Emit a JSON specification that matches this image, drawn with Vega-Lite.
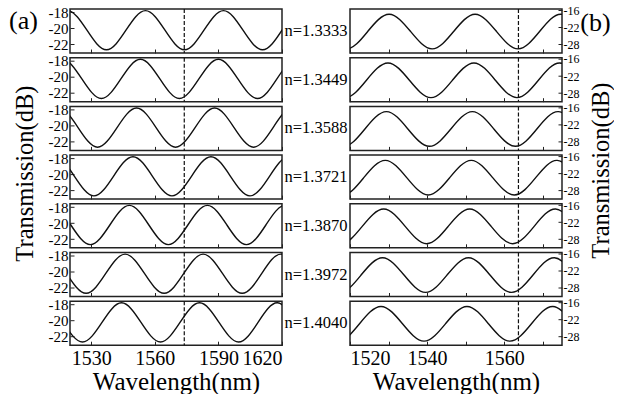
{
"$schema": "https://vega.github.io/schema/vega-lite/v6.json",
"padding": {"left": 7, "top": 3, "right": 0, "bottom": 0},
"background": "white",
"datasets": {
"left": [
{"n":"1.3333","w":1509.6,"t":-20.25},{"n":"1.3333","w":1518.8,"t":-17.8},{"n":"1.3333","w":1528.0,"t":-20.25},{"n":"1.3333","w":1537.2,"t":-22.7},{"n":"1.3333","w":1546.4,"t":-20.25},{"n":"1.3333","w":1555.6,"t":-17.8},{"n":"1.3333","w":1564.8,"t":-20.25},{"n":"1.3333","w":1574.0,"t":-22.7},{"n":"1.3333","w":1583.2,"t":-20.25},{"n":"1.3333","w":1592.4,"t":-17.8},{"n":"1.3333","w":1601.6,"t":-20.25},{"n":"1.3333","w":1610.8,"t":-22.7},{"n":"1.3333","w":1620.0,"t":-20.25},{"n":"1.3333","w":1629.2,"t":-17.8},{"n":"1.3333","w":1638.4,"t":-20.25},{"n":"1.3333","w":1647.6,"t":-22.7},
{"n":"1.3449","w":1507.2,"t":-20.25},{"n":"1.3449","w":1516.4,"t":-17.8},{"n":"1.3449","w":1525.6,"t":-20.25},{"n":"1.3449","w":1534.8,"t":-22.7},{"n":"1.3449","w":1544.0,"t":-20.25},{"n":"1.3449","w":1553.2,"t":-17.8},{"n":"1.3449","w":1562.4,"t":-20.25},{"n":"1.3449","w":1571.6,"t":-22.7},{"n":"1.3449","w":1580.8,"t":-20.25},{"n":"1.3449","w":1590.0,"t":-17.8},{"n":"1.3449","w":1599.2,"t":-20.25},{"n":"1.3449","w":1608.4,"t":-22.7},{"n":"1.3449","w":1617.6,"t":-20.25},{"n":"1.3449","w":1626.8,"t":-17.8},{"n":"1.3449","w":1636.0,"t":-20.25},{"n":"1.3449","w":1645.2,"t":-22.7},
{"n":"1.3588","w":1505.4,"t":-20.25},{"n":"1.3588","w":1514.6,"t":-17.8},{"n":"1.3588","w":1523.8,"t":-20.25},{"n":"1.3588","w":1533.0,"t":-22.7},{"n":"1.3588","w":1542.2,"t":-20.25},{"n":"1.3588","w":1551.4,"t":-17.8},{"n":"1.3588","w":1560.6,"t":-20.25},{"n":"1.3588","w":1569.8,"t":-22.7},{"n":"1.3588","w":1579.0,"t":-20.25},{"n":"1.3588","w":1588.2,"t":-17.8},{"n":"1.3588","w":1597.4,"t":-20.25},{"n":"1.3588","w":1606.6,"t":-22.7},{"n":"1.3588","w":1615.8,"t":-20.25},{"n":"1.3588","w":1625.0,"t":-17.8},{"n":"1.3588","w":1634.2,"t":-20.25},{"n":"1.3588","w":1643.4,"t":-22.7},
{"n":"1.3721","w":1503.7,"t":-20.25},{"n":"1.3721","w":1512.9,"t":-17.8},{"n":"1.3721","w":1522.1,"t":-20.25},{"n":"1.3721","w":1531.3,"t":-22.7},{"n":"1.3721","w":1540.5,"t":-20.25},{"n":"1.3721","w":1549.7,"t":-17.8},{"n":"1.3721","w":1558.9,"t":-20.25},{"n":"1.3721","w":1568.1,"t":-22.7},{"n":"1.3721","w":1577.3,"t":-20.25},{"n":"1.3721","w":1586.5,"t":-17.8},{"n":"1.3721","w":1595.7,"t":-20.25},{"n":"1.3721","w":1604.9,"t":-22.7},{"n":"1.3721","w":1614.1,"t":-20.25},{"n":"1.3721","w":1623.3,"t":-17.8},{"n":"1.3721","w":1632.5,"t":-20.25},{"n":"1.3721","w":1641.7,"t":-22.7},
{"n":"1.3870","w":1502.0,"t":-20.25},{"n":"1.3870","w":1511.2,"t":-17.8},{"n":"1.3870","w":1520.4,"t":-20.25},{"n":"1.3870","w":1529.6,"t":-22.7},{"n":"1.3870","w":1538.8,"t":-20.25},{"n":"1.3870","w":1548.0,"t":-17.8},{"n":"1.3870","w":1557.2,"t":-20.25},{"n":"1.3870","w":1566.4,"t":-22.7},{"n":"1.3870","w":1575.6,"t":-20.25},{"n":"1.3870","w":1584.8,"t":-17.8},{"n":"1.3870","w":1594.0,"t":-20.25},{"n":"1.3870","w":1603.2,"t":-22.7},{"n":"1.3870","w":1612.4,"t":-20.25},{"n":"1.3870","w":1621.6,"t":-17.8},{"n":"1.3870","w":1630.8,"t":-20.25},{"n":"1.3870","w":1640.0,"t":-22.7},
{"n":"1.3972","w":1500.0,"t":-20.25},{"n":"1.3972","w":1509.2,"t":-17.8},{"n":"1.3972","w":1518.4,"t":-20.25},{"n":"1.3972","w":1527.6,"t":-22.7},{"n":"1.3972","w":1536.8,"t":-20.25},{"n":"1.3972","w":1546.0,"t":-17.8},{"n":"1.3972","w":1555.2,"t":-20.25},{"n":"1.3972","w":1564.4,"t":-22.7},{"n":"1.3972","w":1573.6,"t":-20.25},{"n":"1.3972","w":1582.8,"t":-17.8},{"n":"1.3972","w":1592.0,"t":-20.25},{"n":"1.3972","w":1601.2,"t":-22.7},{"n":"1.3972","w":1610.4,"t":-20.25},{"n":"1.3972","w":1619.6,"t":-17.8},{"n":"1.3972","w":1628.8,"t":-20.25},{"n":"1.3972","w":1638.0,"t":-22.7},
{"n":"1.4040","w":1498.3,"t":-20.25},{"n":"1.4040","w":1507.5,"t":-17.8},{"n":"1.4040","w":1516.7,"t":-20.25},{"n":"1.4040","w":1525.9,"t":-22.7},{"n":"1.4040","w":1535.1,"t":-20.25},{"n":"1.4040","w":1544.3,"t":-17.8},{"n":"1.4040","w":1553.5,"t":-20.25},{"n":"1.4040","w":1562.7,"t":-22.7},{"n":"1.4040","w":1571.9,"t":-20.25},{"n":"1.4040","w":1581.1,"t":-17.8},{"n":"1.4040","w":1590.3,"t":-20.25},{"n":"1.4040","w":1599.5,"t":-22.7},{"n":"1.4040","w":1608.7,"t":-20.25},{"n":"1.4040","w":1617.9,"t":-17.8},{"n":"1.4040","w":1627.1,"t":-20.25},{"n":"1.4040","w":1636.3,"t":-22.7}
],
"right": [
{"n":"1.3333","w":1507.85,"t":-17.4},{"n":"1.3333","w":1513.43,"t":-23.5},{"n":"1.3333","w":1519.0,"t":-29.6},{"n":"1.3333","w":1524.58,"t":-23.5},{"n":"1.3333","w":1530.15,"t":-17.4},{"n":"1.3333","w":1535.73,"t":-23.5},{"n":"1.3333","w":1541.3,"t":-29.6},{"n":"1.3333","w":1546.88,"t":-23.5},{"n":"1.3333","w":1552.45,"t":-17.4},{"n":"1.3333","w":1558.03,"t":-23.5},{"n":"1.3333","w":1563.6,"t":-29.6},{"n":"1.3333","w":1569.18,"t":-23.5},{"n":"1.3333","w":1574.75,"t":-17.4},{"n":"1.3333","w":1580.33,"t":-23.5},{"n":"1.3333","w":1585.9,"t":-29.6},
{"n":"1.3449","w":1507.55,"t":-17.4},{"n":"1.3449","w":1513.12,"t":-23.5},{"n":"1.3449","w":1518.7,"t":-29.6},{"n":"1.3449","w":1524.27,"t":-23.5},{"n":"1.3449","w":1529.85,"t":-17.4},{"n":"1.3449","w":1535.42,"t":-23.5},{"n":"1.3449","w":1541.0,"t":-29.6},{"n":"1.3449","w":1546.57,"t":-23.5},{"n":"1.3449","w":1552.15,"t":-17.4},{"n":"1.3449","w":1557.72,"t":-23.5},{"n":"1.3449","w":1563.3,"t":-29.6},{"n":"1.3449","w":1568.88,"t":-23.5},{"n":"1.3449","w":1574.45,"t":-17.4},{"n":"1.3449","w":1580.03,"t":-23.5},{"n":"1.3449","w":1585.6,"t":-29.6},
{"n":"1.3588","w":1507.15,"t":-17.4},{"n":"1.3588","w":1512.72,"t":-23.5},{"n":"1.3588","w":1518.3,"t":-29.6},{"n":"1.3588","w":1523.87,"t":-23.5},{"n":"1.3588","w":1529.45,"t":-17.4},{"n":"1.3588","w":1535.02,"t":-23.5},{"n":"1.3588","w":1540.6,"t":-29.6},{"n":"1.3588","w":1546.17,"t":-23.5},{"n":"1.3588","w":1551.75,"t":-17.4},{"n":"1.3588","w":1557.32,"t":-23.5},{"n":"1.3588","w":1562.9,"t":-29.6},{"n":"1.3588","w":1568.48,"t":-23.5},{"n":"1.3588","w":1574.05,"t":-17.4},{"n":"1.3588","w":1579.63,"t":-23.5},{"n":"1.3588","w":1585.2,"t":-29.6},
{"n":"1.3721","w":1506.85,"t":-17.4},{"n":"1.3721","w":1512.42,"t":-23.5},{"n":"1.3721","w":1518.0,"t":-29.6},{"n":"1.3721","w":1523.57,"t":-23.5},{"n":"1.3721","w":1529.15,"t":-17.4},{"n":"1.3721","w":1534.72,"t":-23.5},{"n":"1.3721","w":1540.3,"t":-29.6},{"n":"1.3721","w":1545.87,"t":-23.5},{"n":"1.3721","w":1551.45,"t":-17.4},{"n":"1.3721","w":1557.02,"t":-23.5},{"n":"1.3721","w":1562.6,"t":-29.6},{"n":"1.3721","w":1568.18,"t":-23.5},{"n":"1.3721","w":1573.75,"t":-17.4},{"n":"1.3721","w":1579.33,"t":-23.5},{"n":"1.3721","w":1584.9,"t":-29.6},
{"n":"1.3870","w":1506.45,"t":-17.4},{"n":"1.3870","w":1512.02,"t":-23.5},{"n":"1.3870","w":1517.6,"t":-29.6},{"n":"1.3870","w":1523.17,"t":-23.5},{"n":"1.3870","w":1528.75,"t":-17.4},{"n":"1.3870","w":1534.32,"t":-23.5},{"n":"1.3870","w":1539.9,"t":-29.6},{"n":"1.3870","w":1545.47,"t":-23.5},{"n":"1.3870","w":1551.05,"t":-17.4},{"n":"1.3870","w":1556.62,"t":-23.5},{"n":"1.3870","w":1562.2,"t":-29.6},{"n":"1.3870","w":1567.78,"t":-23.5},{"n":"1.3870","w":1573.35,"t":-17.4},{"n":"1.3870","w":1578.93,"t":-23.5},{"n":"1.3870","w":1584.5,"t":-29.6},
{"n":"1.3972","w":1506.15,"t":-17.4},{"n":"1.3972","w":1511.72,"t":-23.5},{"n":"1.3972","w":1517.3,"t":-29.6},{"n":"1.3972","w":1522.87,"t":-23.5},{"n":"1.3972","w":1528.45,"t":-17.4},{"n":"1.3972","w":1534.02,"t":-23.5},{"n":"1.3972","w":1539.6,"t":-29.6},{"n":"1.3972","w":1545.17,"t":-23.5},{"n":"1.3972","w":1550.75,"t":-17.4},{"n":"1.3972","w":1556.32,"t":-23.5},{"n":"1.3972","w":1561.9,"t":-29.6},{"n":"1.3972","w":1567.48,"t":-23.5},{"n":"1.3972","w":1573.05,"t":-17.4},{"n":"1.3972","w":1578.63,"t":-23.5},{"n":"1.3972","w":1584.2,"t":-29.6},
{"n":"1.4040","w":1505.75,"t":-17.4},{"n":"1.4040","w":1511.32,"t":-23.5},{"n":"1.4040","w":1516.9,"t":-29.6},{"n":"1.4040","w":1522.47,"t":-23.5},{"n":"1.4040","w":1528.05,"t":-17.4},{"n":"1.4040","w":1533.62,"t":-23.5},{"n":"1.4040","w":1539.2,"t":-29.6},{"n":"1.4040","w":1544.77,"t":-23.5},{"n":"1.4040","w":1550.35,"t":-17.4},{"n":"1.4040","w":1555.92,"t":-23.5},{"n":"1.4040","w":1561.5,"t":-29.6},{"n":"1.4040","w":1567.08,"t":-23.5},{"n":"1.4040","w":1572.65,"t":-17.4},{"n":"1.4040","w":1578.23,"t":-23.5},{"n":"1.4040","w":1583.8,"t":-29.6}
],
"labels": [
{"n":"1.3333","label":"n=1.3333"},{"n":"1.3449","label":"n=1.3449"},{"n":"1.3588","label":"n=1.3588"},{"n":"1.3721","label":"n=1.3721"},{"n":"1.3870","label":"n=1.3870"},{"n":"1.3972","label":"n=1.3972"},{"n":"1.4040","label":"n=1.4040"}
],
"dash": [{"side":"a","w":1573.9},{"side":"b","w":1563.7}]
},
"columns": 3,
"spacing": {"row": 4.7, "column": 4},
"bounds": "flush",
"concat": [
{"width":212,"height":44,"layer":[
 {"data":{"name":"left"},"transform":[{"filter":"datum.n == '1.3333'"}],"mark":{"type":"line","interpolate":"natural","clip":true,"color":"#111","strokeWidth":1.4},
  "encoding":{"x":{"field":"w","type":"quantitative","scale":{"domain":[1520,1620],"nice":false,"zero":false},"axis":{"values":[1530,1545,1560,1575,1590,1605,1620],"labels":false,"title":null}},
   "y":{"field":"t","type":"quantitative","scale":{"domain":[-23.1,-17.6],"nice":false,"zero":false},"axis":{"values":[-18,-20,-22],"labelOverlap":false,"labelExpr":"'' + datum.value","title":"(a)","titleAngle":0,"titleX":-47,"titleY":11,"titleAlign":"center","titleBaseline":"middle","titleFontSize":26}}}},
 {"data":{"name":"dash"},"transform":[{"filter":"datum.side == 'a'"}],"mark":{"type":"rule","strokeDash":[4,2],"color":"#111","strokeWidth":1.2},
  "encoding":{"x":{"field":"w","type":"quantitative"}}}]},
{"width":60,"height":44,"view":{"stroke":null},"data":{"name":"labels"},"transform":[{"filter":"datum.n == '1.3333'"}],"mark":{"type":"text","fontSize":16.5,"font":"Liberation Serif","color":"#000"},"encoding":{"text":{"field":"label"}}},
{"width":212,"height":44,"layer":[
 {"data":{"name":"right"},"transform":[{"filter":"datum.n == '1.3333'"}],"mark":{"type":"line","interpolate":"natural","clip":true,"color":"#111","strokeWidth":1.4},
  "encoding":{"x":{"field":"w","type":"quantitative","scale":{"domain":[1520,1575],"nice":false,"zero":false},"axis":{"values":[1520,1530,1540,1550,1560,1570],"labels":false,"title":null}},
   "y":{"field":"t","type":"quantitative","scale":{"domain":[-31.05,-15.55],"nice":false,"zero":false},"axis":{"orient":"right","values":[-16,-22,-28],"labelOverlap":false,"labelExpr":"'' + datum.value","title":"(b)","titleAngle":0,"titleX":33,"titleY":13,"titleAlign":"center","titleBaseline":"middle","titleFontSize":26}}}},
 {"data":{"name":"dash"},"transform":[{"filter":"datum.side == 'b'"}],"mark":{"type":"rule","strokeDash":[4,2],"color":"#111","strokeWidth":1.2},
  "encoding":{"x":{"field":"w","type":"quantitative"}}}]},

{"width":212,"height":44,"layer":[
 {"data":{"name":"left"},"transform":[{"filter":"datum.n == '1.3449'"}],"mark":{"type":"line","interpolate":"natural","clip":true,"color":"#111","strokeWidth":1.4},
  "encoding":{"x":{"field":"w","type":"quantitative","scale":{"domain":[1520,1620],"nice":false,"zero":false},"axis":{"values":[1530,1545,1560,1575,1590,1605,1620],"labels":false,"title":null}},
   "y":{"field":"t","type":"quantitative","scale":{"domain":[-23.1,-17.6],"nice":false,"zero":false},"axis":{"values":[-18,-20,-22],"labelOverlap":false,"labelExpr":"'' + datum.value","title":null}}}},
 {"data":{"name":"dash"},"transform":[{"filter":"datum.side == 'a'"}],"mark":{"type":"rule","strokeDash":[4,2],"color":"#111","strokeWidth":1.2},
  "encoding":{"x":{"field":"w","type":"quantitative"}}}]},
{"width":60,"height":44,"view":{"stroke":null},"data":{"name":"labels"},"transform":[{"filter":"datum.n == '1.3449'"}],"mark":{"type":"text","fontSize":16.5,"font":"Liberation Serif","color":"#000"},"encoding":{"text":{"field":"label"}}},
{"width":212,"height":44,"layer":[
 {"data":{"name":"right"},"transform":[{"filter":"datum.n == '1.3449'"}],"mark":{"type":"line","interpolate":"natural","clip":true,"color":"#111","strokeWidth":1.4},
  "encoding":{"x":{"field":"w","type":"quantitative","scale":{"domain":[1520,1575],"nice":false,"zero":false},"axis":{"values":[1520,1530,1540,1550,1560,1570],"labels":false,"title":null}},
   "y":{"field":"t","type":"quantitative","scale":{"domain":[-31.05,-15.55],"nice":false,"zero":false},"axis":{"orient":"right","values":[-16,-22,-28],"labelOverlap":false,"labelExpr":"'' + datum.value","title":null}}}},
 {"data":{"name":"dash"},"transform":[{"filter":"datum.side == 'b'"}],"mark":{"type":"rule","strokeDash":[4,2],"color":"#111","strokeWidth":1.2},
  "encoding":{"x":{"field":"w","type":"quantitative"}}}]},

{"width":212,"height":44,"layer":[
 {"data":{"name":"left"},"transform":[{"filter":"datum.n == '1.3588'"}],"mark":{"type":"line","interpolate":"natural","clip":true,"color":"#111","strokeWidth":1.4},
  "encoding":{"x":{"field":"w","type":"quantitative","scale":{"domain":[1520,1620],"nice":false,"zero":false},"axis":{"values":[1530,1545,1560,1575,1590,1605,1620],"labels":false,"title":null}},
   "y":{"field":"t","type":"quantitative","scale":{"domain":[-23.1,-17.6],"nice":false,"zero":false},"axis":{"values":[-18,-20,-22],"labelOverlap":false,"labelExpr":"'' + datum.value","title":null}}}},
 {"data":{"name":"dash"},"transform":[{"filter":"datum.side == 'a'"}],"mark":{"type":"rule","strokeDash":[4,2],"color":"#111","strokeWidth":1.2},
  "encoding":{"x":{"field":"w","type":"quantitative"}}}]},
{"width":60,"height":44,"view":{"stroke":null},"data":{"name":"labels"},"transform":[{"filter":"datum.n == '1.3588'"}],"mark":{"type":"text","fontSize":16.5,"font":"Liberation Serif","color":"#000"},"encoding":{"text":{"field":"label"}}},
{"width":212,"height":44,"layer":[
 {"data":{"name":"right"},"transform":[{"filter":"datum.n == '1.3588'"}],"mark":{"type":"line","interpolate":"natural","clip":true,"color":"#111","strokeWidth":1.4},
  "encoding":{"x":{"field":"w","type":"quantitative","scale":{"domain":[1520,1575],"nice":false,"zero":false},"axis":{"values":[1520,1530,1540,1550,1560,1570],"labels":false,"title":null}},
   "y":{"field":"t","type":"quantitative","scale":{"domain":[-31.05,-15.55],"nice":false,"zero":false},"axis":{"orient":"right","values":[-16,-22,-28],"labelOverlap":false,"labelExpr":"'' + datum.value","title":null}}}},
 {"data":{"name":"dash"},"transform":[{"filter":"datum.side == 'b'"}],"mark":{"type":"rule","strokeDash":[4,2],"color":"#111","strokeWidth":1.2},
  "encoding":{"x":{"field":"w","type":"quantitative"}}}]},

{"width":212,"height":44,"layer":[
 {"data":{"name":"left"},"transform":[{"filter":"datum.n == '1.3721'"}],"mark":{"type":"line","interpolate":"natural","clip":true,"color":"#111","strokeWidth":1.4},
  "encoding":{"x":{"field":"w","type":"quantitative","scale":{"domain":[1520,1620],"nice":false,"zero":false},"axis":{"values":[1530,1545,1560,1575,1590,1605,1620],"labels":false,"title":null}},
   "y":{"field":"t","type":"quantitative","scale":{"domain":[-23.1,-17.6],"nice":false,"zero":false},"axis":{"values":[-18,-20,-22],"labelOverlap":false,"labelExpr":"'' + datum.value","title":"Transmission(dB)","titleAngle":-90,"titleX":-45,"titleY":18,"titleAlign":"center","titleBaseline":"middle","titleFontSize":24.5}}}},
 {"data":{"name":"dash"},"transform":[{"filter":"datum.side == 'a'"}],"mark":{"type":"rule","strokeDash":[4,2],"color":"#111","strokeWidth":1.2},
  "encoding":{"x":{"field":"w","type":"quantitative"}}}]},
{"width":60,"height":44,"view":{"stroke":null},"data":{"name":"labels"},"transform":[{"filter":"datum.n == '1.3721'"}],"mark":{"type":"text","fontSize":16.5,"font":"Liberation Serif","color":"#000"},"encoding":{"text":{"field":"label"}}},
{"width":212,"height":44,"layer":[
 {"data":{"name":"right"},"transform":[{"filter":"datum.n == '1.3721'"}],"mark":{"type":"line","interpolate":"natural","clip":true,"color":"#111","strokeWidth":1.4},
  "encoding":{"x":{"field":"w","type":"quantitative","scale":{"domain":[1520,1575],"nice":false,"zero":false},"axis":{"values":[1520,1530,1540,1550,1560,1570],"labels":false,"title":null}},
   "y":{"field":"t","type":"quantitative","scale":{"domain":[-31.05,-15.55],"nice":false,"zero":false},"axis":{"orient":"right","values":[-16,-22,-28],"labelOverlap":false,"labelExpr":"'' + datum.value","title":"Transmission(dB)","titleAngle":-90,"titleX":39,"titleY":15,"titleAlign":"center","titleBaseline":"middle","titleFontSize":24.5}}}},
 {"data":{"name":"dash"},"transform":[{"filter":"datum.side == 'b'"}],"mark":{"type":"rule","strokeDash":[4,2],"color":"#111","strokeWidth":1.2},
  "encoding":{"x":{"field":"w","type":"quantitative"}}}]},

{"width":212,"height":44,"layer":[
 {"data":{"name":"left"},"transform":[{"filter":"datum.n == '1.3870'"}],"mark":{"type":"line","interpolate":"natural","clip":true,"color":"#111","strokeWidth":1.4},
  "encoding":{"x":{"field":"w","type":"quantitative","scale":{"domain":[1520,1620],"nice":false,"zero":false},"axis":{"values":[1530,1545,1560,1575,1590,1605,1620],"labels":false,"title":null}},
   "y":{"field":"t","type":"quantitative","scale":{"domain":[-23.1,-17.6],"nice":false,"zero":false},"axis":{"values":[-18,-20,-22],"labelOverlap":false,"labelExpr":"'' + datum.value","title":null}}}},
 {"data":{"name":"dash"},"transform":[{"filter":"datum.side == 'a'"}],"mark":{"type":"rule","strokeDash":[4,2],"color":"#111","strokeWidth":1.2},
  "encoding":{"x":{"field":"w","type":"quantitative"}}}]},
{"width":60,"height":44,"view":{"stroke":null},"data":{"name":"labels"},"transform":[{"filter":"datum.n == '1.3870'"}],"mark":{"type":"text","fontSize":16.5,"font":"Liberation Serif","color":"#000"},"encoding":{"text":{"field":"label"}}},
{"width":212,"height":44,"layer":[
 {"data":{"name":"right"},"transform":[{"filter":"datum.n == '1.3870'"}],"mark":{"type":"line","interpolate":"natural","clip":true,"color":"#111","strokeWidth":1.4},
  "encoding":{"x":{"field":"w","type":"quantitative","scale":{"domain":[1520,1575],"nice":false,"zero":false},"axis":{"values":[1520,1530,1540,1550,1560,1570],"labels":false,"title":null}},
   "y":{"field":"t","type":"quantitative","scale":{"domain":[-31.05,-15.55],"nice":false,"zero":false},"axis":{"orient":"right","values":[-16,-22,-28],"labelOverlap":false,"labelExpr":"'' + datum.value","title":null}}}},
 {"data":{"name":"dash"},"transform":[{"filter":"datum.side == 'b'"}],"mark":{"type":"rule","strokeDash":[4,2],"color":"#111","strokeWidth":1.2},
  "encoding":{"x":{"field":"w","type":"quantitative"}}}]},

{"width":212,"height":44,"layer":[
 {"data":{"name":"left"},"transform":[{"filter":"datum.n == '1.3972'"}],"mark":{"type":"line","interpolate":"natural","clip":true,"color":"#111","strokeWidth":1.4},
  "encoding":{"x":{"field":"w","type":"quantitative","scale":{"domain":[1520,1620],"nice":false,"zero":false},"axis":{"values":[1530,1545,1560,1575,1590,1605,1620],"labels":false,"title":null}},
   "y":{"field":"t","type":"quantitative","scale":{"domain":[-23.1,-17.6],"nice":false,"zero":false},"axis":{"values":[-18,-20,-22],"labelOverlap":false,"labelExpr":"'' + datum.value","title":null}}}},
 {"data":{"name":"dash"},"transform":[{"filter":"datum.side == 'a'"}],"mark":{"type":"rule","strokeDash":[4,2],"color":"#111","strokeWidth":1.2},
  "encoding":{"x":{"field":"w","type":"quantitative"}}}]},
{"width":60,"height":44,"view":{"stroke":null},"data":{"name":"labels"},"transform":[{"filter":"datum.n == '1.3972'"}],"mark":{"type":"text","fontSize":16.5,"font":"Liberation Serif","color":"#000"},"encoding":{"text":{"field":"label"}}},
{"width":212,"height":44,"layer":[
 {"data":{"name":"right"},"transform":[{"filter":"datum.n == '1.3972'"}],"mark":{"type":"line","interpolate":"natural","clip":true,"color":"#111","strokeWidth":1.4},
  "encoding":{"x":{"field":"w","type":"quantitative","scale":{"domain":[1520,1575],"nice":false,"zero":false},"axis":{"values":[1520,1530,1540,1550,1560,1570],"labels":false,"title":null}},
   "y":{"field":"t","type":"quantitative","scale":{"domain":[-31.05,-15.55],"nice":false,"zero":false},"axis":{"orient":"right","values":[-16,-22,-28],"labelOverlap":false,"labelExpr":"'' + datum.value","title":null}}}},
 {"data":{"name":"dash"},"transform":[{"filter":"datum.side == 'b'"}],"mark":{"type":"rule","strokeDash":[4,2],"color":"#111","strokeWidth":1.2},
  "encoding":{"x":{"field":"w","type":"quantitative"}}}]},

{"width":212,"height":44,"layer":[
 {"data":{"name":"left"},"transform":[{"filter":"datum.n == '1.4040'"}],"mark":{"type":"line","interpolate":"natural","clip":true,"color":"#111","strokeWidth":1.4},
  "encoding":{"x":{"field":"w","type":"quantitative","scale":{"domain":[1520,1620],"nice":false,"zero":false},"axis":{"values":[1530,1545,1560,1575,1590,1605,1620],"labelExpr":"datum.value % 30 === 0 ? '' + datum.value : ''","title":"Wavelength(nm)"}},
   "y":{"field":"t","type":"quantitative","scale":{"domain":[-23.1,-17.6],"nice":false,"zero":false},"axis":{"values":[-18,-20,-22],"labelOverlap":false,"labelExpr":"'' + datum.value","title":null}}}},
 {"data":{"name":"dash"},"transform":[{"filter":"datum.side == 'a'"}],"mark":{"type":"rule","strokeDash":[4,2],"color":"#111","strokeWidth":1.2},
  "encoding":{"x":{"field":"w","type":"quantitative"}}}]},
{"width":60,"height":44,"view":{"stroke":null},"data":{"name":"labels"},"transform":[{"filter":"datum.n == '1.4040'"}],"mark":{"type":"text","fontSize":16.5,"font":"Liberation Serif","color":"#000"},"encoding":{"text":{"field":"label"}}},
{"width":212,"height":44,"layer":[
 {"data":{"name":"right"},"transform":[{"filter":"datum.n == '1.4040'"}],"mark":{"type":"line","interpolate":"natural","clip":true,"color":"#111","strokeWidth":1.4},
  "encoding":{"x":{"field":"w","type":"quantitative","scale":{"domain":[1520,1575],"nice":false,"zero":false},"axis":{"values":[1520,1530,1540,1550,1560,1570],"labelExpr":"datum.value % 20 === 0 ? '' + datum.value : ''","title":"Wavelength(nm)"}},
   "y":{"field":"t","type":"quantitative","scale":{"domain":[-31.05,-15.55],"nice":false,"zero":false},"axis":{"orient":"right","values":[-16,-22,-28],"labelOverlap":false,"labelExpr":"'' + datum.value","title":null}}}},
 {"data":{"name":"dash"},"transform":[{"filter":"datum.side == 'b'"}],"mark":{"type":"rule","strokeDash":[4,2],"color":"#111","strokeWidth":1.2},
  "encoding":{"x":{"field":"w","type":"quantitative"}}}]}
],
"config": {
 "font": "Liberation Serif",
 "view": {"stroke": "#222", "strokeWidth": 1.5},
 "axis": {"grid": false, "domain": false, "tickSize": -4, "tickColor": "#222", "tickWidth": 1, "labelColor": "#000", "titleColor": "#000", "titleFontWeight": "normal", "labelFont": "Liberation Serif", "titleFont": "Liberation Serif", "labelOverlap": false, "labelBound": false, "labelSeparation": -4},
 "axisLeft": {"labelFontSize": 15, "labelPadding": 6},
 "axisRight": {"labelFontSize": 12, "labelPadding": 5},
 "axisBottom": {"labelFontSize": 20, "titleFontSize": 25, "labelPadding": 7, "titlePadding": 1}
}
}
